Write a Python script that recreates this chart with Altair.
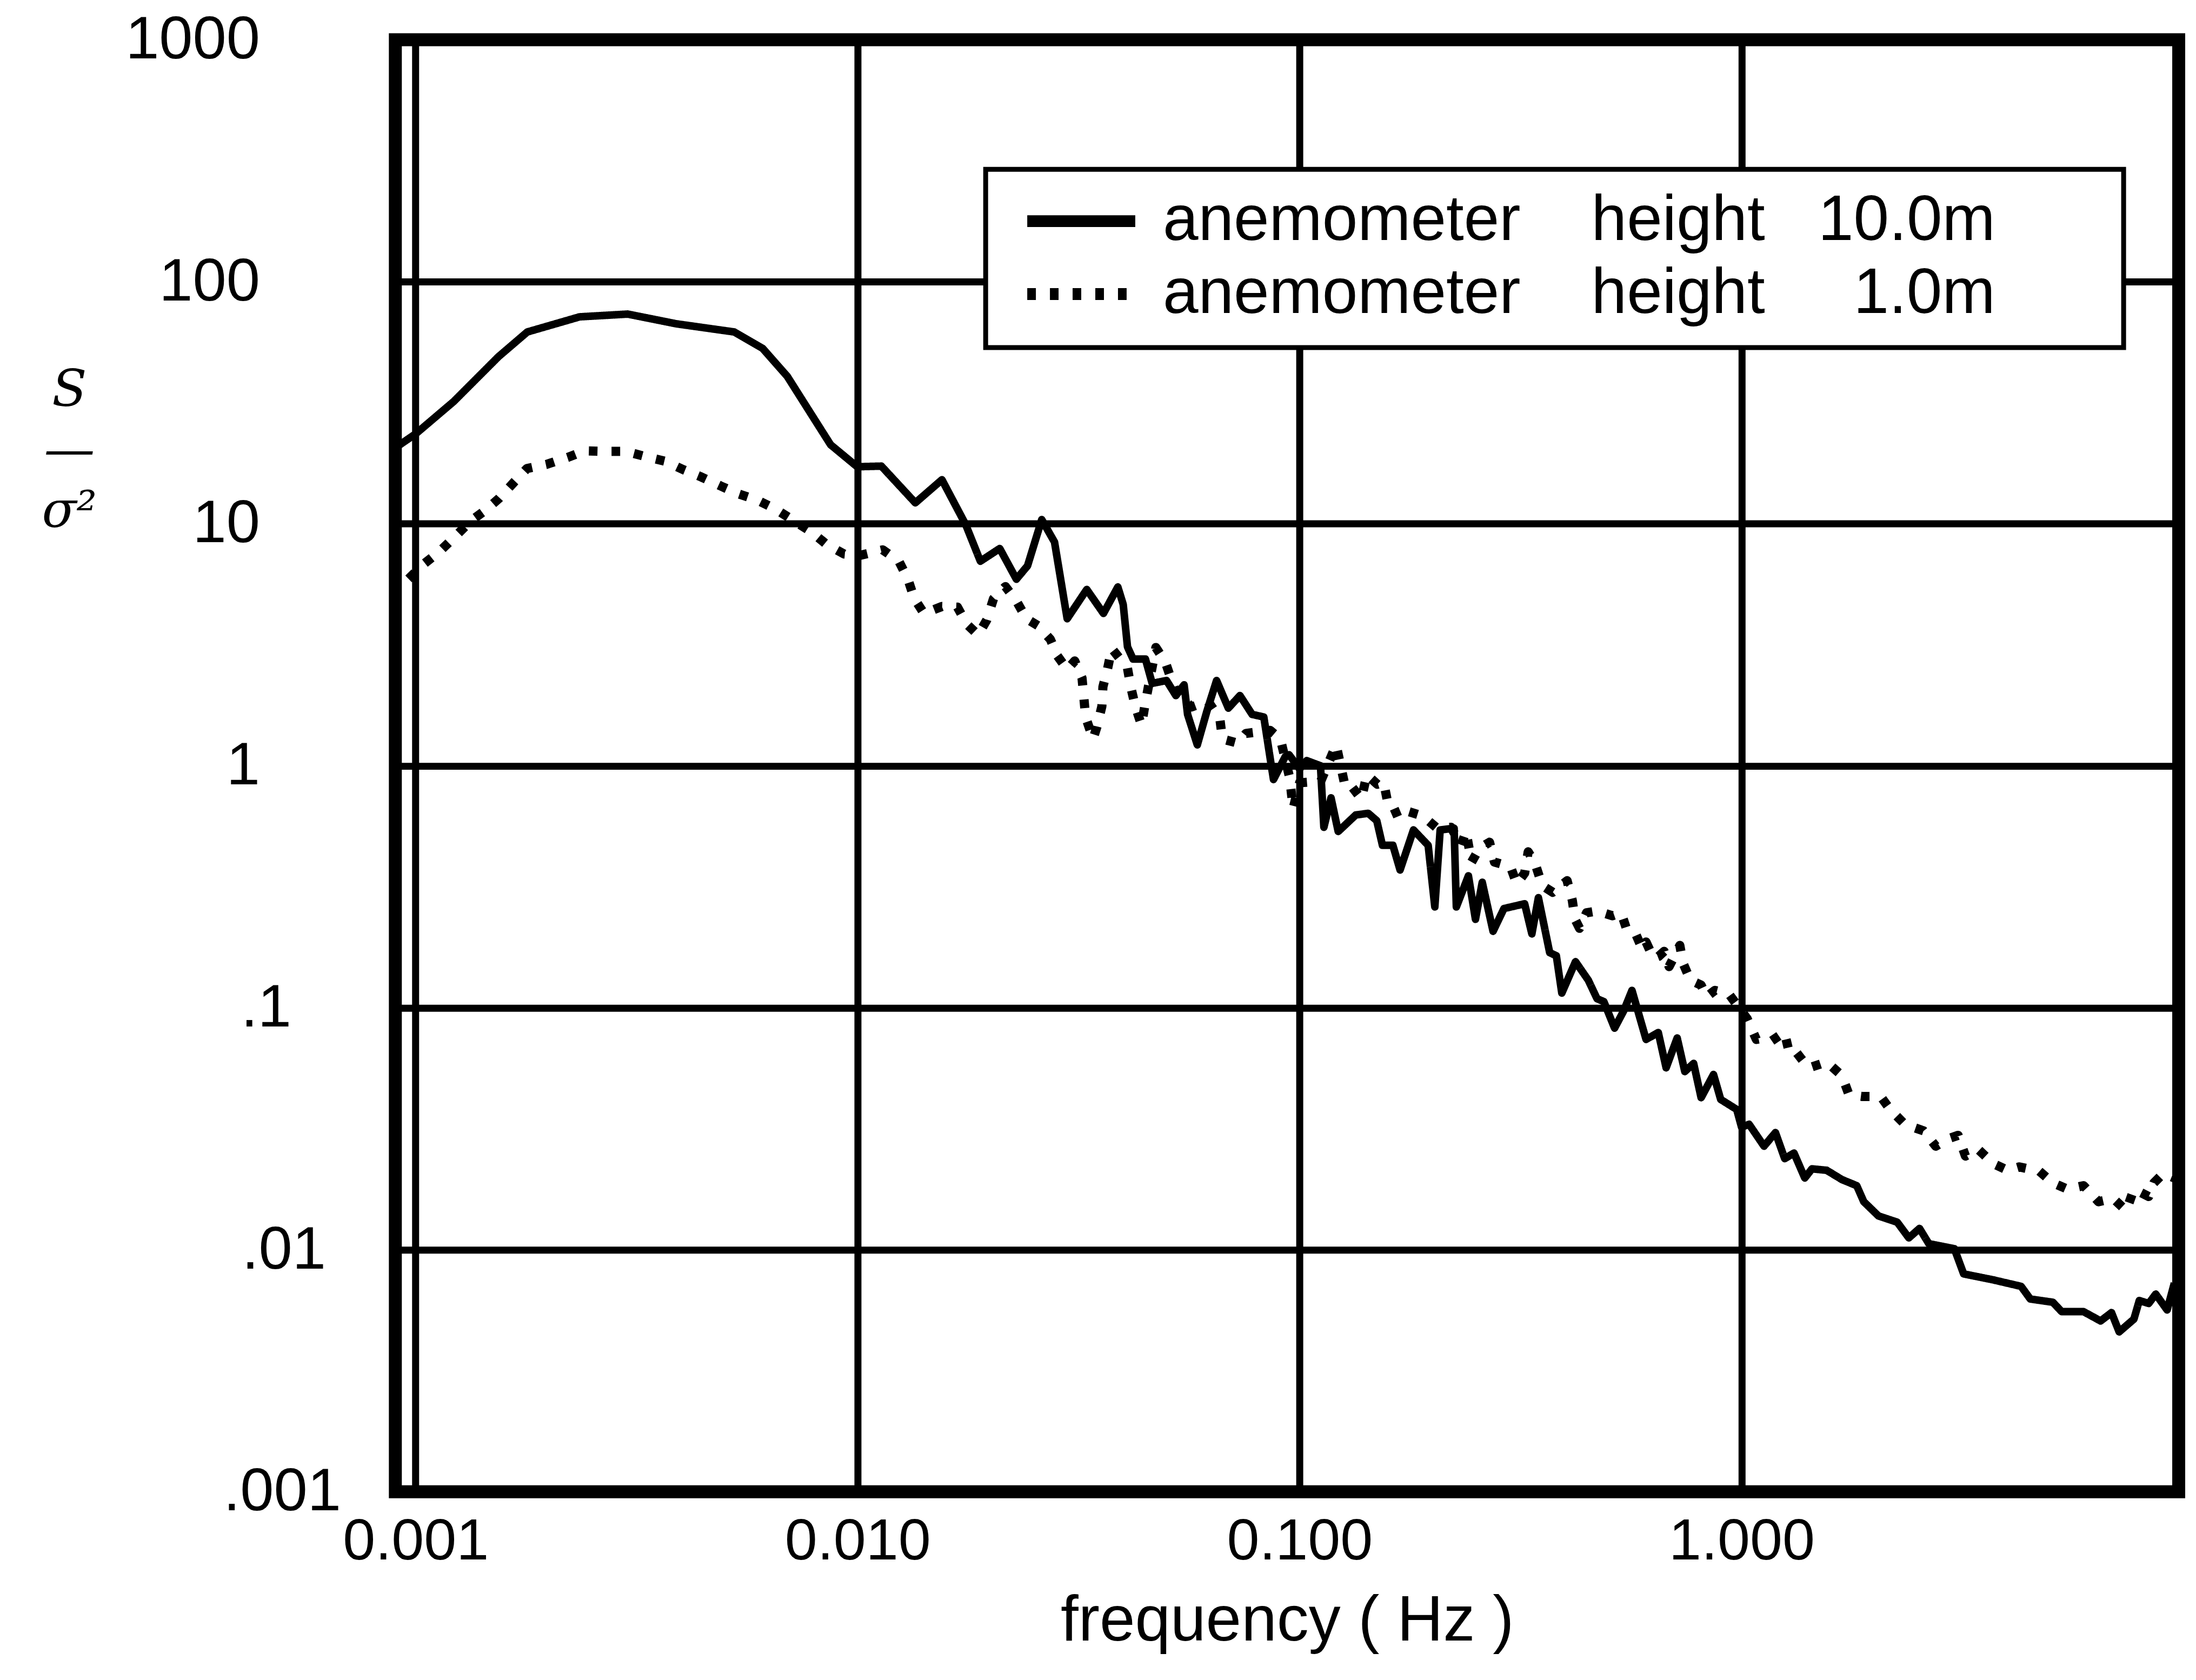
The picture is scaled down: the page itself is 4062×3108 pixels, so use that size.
import altair as alt
import pandas as pd

# ---------------- data ----------------
NB = "\u00a0"
LABEL_10 = "anemometer" + NB * 4 + "height" + NB * 3 + "10.0m" + NB * 6 + "\u200b"
LABEL_1 = "anemometer" + NB * 4 + "height" + NB * 5 + "1.0m" + NB * 6 + "\u200b"

freq_10m = [0.0009, 0.001, 0.00122, 0.00154, 0.00179, 0.00235, 0.00302, 0.00389, 0.00526, 0.0061,
            0.00693, 0.00787, 0.00869, 0.00998, 0.01132, 0.01351, 0.01552, 0.01757, 0.01896, 0.02097,
            0.02287, 0.02424, 0.0261, 0.0279, 0.0298, 0.0330, 0.0360, 0.0388, 0.0399, 0.0408,
            0.0420, 0.0448, 0.0464, 0.0500, 0.0525, 0.0548, 0.0558, 0.0587, 0.0617, 0.0649,
            0.0690, 0.0733, 0.0781, 0.0830, 0.0861, 0.0873, 0.0928, 0.0947, 0.1, 0.1038,
            0.1115, 0.1135, 0.1178, 0.1223, 0.134, 0.143, 0.1495, 0.154, 0.1626, 0.1688,
            0.181, 0.1954, 0.2023, 0.208, 0.2237, 0.2263, 0.241, 0.250, 0.259, 0.274,
            0.290, 0.323, 0.3354, 0.347, 0.368, 0.381, 0.392, 0.421, 0.450, 0.471,
            0.488, 0.516, 0.541, 0.565, 0.608, 0.648, 0.675, 0.715, 0.744, 0.779,
            0.81, 0.864, 0.897, 0.975, 1.0, 1.04, 1.124, 1.193, 1.252, 1.314,
            1.39, 1.443, 1.558, 1.687, 1.822, 1.89, 2.04, 2.25, 2.39, 2.527,
            2.652, 3.03, 3.18, 3.71, 4.29, 4.50, 5.06, 5.30, 5.94, 6.49,
            6.87, 7.15, 7.72, 7.94, 8.34, 8.65, 9.18, 9.53]
s_10m = [20.6, 23.5, 32.0, 49.0, 62.0, 71.6, 73.5, 67.0, 62.0, 53.0,
         40.7, 28.2, 21.2, 17.2, 17.3, 12.2, 15.2, 9.9, 7.0, 7.9,
         5.9, 6.7, 10.4, 8.4, 4.05, 5.35, 4.26, 5.48, 4.64, 3.10,
         2.76, 2.76, 2.19, 2.25, 1.95, 2.16, 1.63, 1.22, 1.68, 2.25,
         1.73, 1.95, 1.63, 1.59, 1.03, 0.877, 1.09, 1.11, 0.97, 1.05,
         1.0, 0.557, 0.737, 0.535, 0.626, 0.636, 0.593, 0.469, 0.469, 0.371,
         0.543, 0.469, 0.261, 0.543, 0.552, 0.261, 0.351, 0.232, 0.330, 0.207,
         0.257, 0.269, 0.202, 0.285, 0.169, 0.164, 0.115, 0.155, 0.130, 0.109,
         0.106, 0.0824, 0.097, 0.118, 0.074, 0.079, 0.0565, 0.075, 0.0545, 0.0589,
         0.0425, 0.053, 0.0418, 0.038, 0.0321, 0.033, 0.0268, 0.0305, 0.0238, 0.0251,
         0.0198, 0.0216, 0.0213, 0.0195, 0.0184, 0.0158, 0.0138, 0.0130, 0.0112, 0.01225,
         0.0106, 0.0101, 0.00795, 0.00751, 0.00706, 0.00626, 0.00607, 0.00555, 0.00555, 0.00508,
         0.0055, 0.00458, 0.00517, 0.00617, 0.0060, 0.00656, 0.00564, 0.00728]

freq_1m = [0.000964, 0.001046, 0.001135, 0.001224, 0.001336, 0.001442, 0.001543, 0.001673, 0.001786, 0.00198,
           0.00221, 0.00241, 0.00269, 0.00299, 0.00333, 0.00368, 0.00404, 0.00443, 0.00491, 0.00537,
           0.00594, 0.00652, 0.00711, 0.00783, 0.00852, 0.00932, 0.01012, 0.0114, 0.0124, 0.0130,
           0.01343, 0.01413, 0.01552, 0.01683, 0.01766, 0.01874, 0.0196, 0.0203, 0.0216, 0.02287,
           0.0241, 0.0256, 0.0273, 0.0283, 0.0298, 0.031, 0.0322, 0.0325, 0.0328, 0.0341,
           0.0348, 0.0357, 0.0359, 0.0368, 0.0376, 0.0408, 0.0415, 0.0425, 0.0439, 0.0447,
           0.0473, 0.0497, 0.0525, 0.057, 0.062, 0.066, 0.0669, 0.0725, 0.0756, 0.0858,
           0.0905, 0.095, 0.0967, 0.1, 0.1117, 0.121, 0.1265, 0.129, 0.138, 0.142,
           0.150, 0.155, 0.158, 0.161, 0.167, 0.172, 0.1766, 0.19, 0.205, 0.22,
           0.232, 0.238, 0.245, 0.255, 0.269, 0.276, 0.30, 0.31, 0.323, 0.329,
           0.341, 0.354, 0.374, 0.403, 0.414, 0.420, 0.43, 0.446, 0.471, 0.51,
           0.534, 0.55, 0.576, 0.596, 0.608, 0.632, 0.649, 0.668, 0.6855, 0.725,
           0.737, 0.766, 0.81, 0.833, 0.87, 0.936, 1.03, 1.08, 1.124, 1.166,
           1.25, 1.28, 1.314, 1.418, 1.558, 1.687, 1.75, 1.875, 2.064, 2.166,
           2.34, 2.58, 2.75, 2.94, 3.09, 3.21, 3.43, 3.71, 4.0, 4.25,
           4.72, 5.06, 5.46, 5.94, 6.42, 6.93, 7.42, 7.72, 8.34, 8.57,
           9.0, 9.53]
s_1m = [5.92, 6.84, 7.7, 8.8, 10.3, 11.4, 12.7, 14.9, 16.9, 17.6,
        18.8, 20.0, 19.9, 19.9, 18.9, 18.1, 16.7, 15.6, 14.3, 13.3,
        12.5, 11.5, 10.4, 9.3, 8.2, 7.5, 7.4, 7.8, 7.0, 5.9,
        4.92, 4.26, 4.55, 4.52, 3.85, 3.47, 4.0, 4.9, 5.5, 4.8,
        4.05, 3.79, 3.33, 2.85, 2.5, 2.71, 2.30, 1.92, 1.59, 1.29,
        1.45, 1.76, 2.12, 2.53, 3.05, 2.53, 2.12, 1.76, 1.47, 1.79,
        3.08, 2.68, 2.0, 1.75, 1.85, 1.57, 1.29, 1.24, 1.36, 1.40,
        1.29, 0.89, 0.664, 0.85, 0.864, 1.22, 0.838, 0.854, 0.729, 0.918,
        0.838, 0.854, 0.716, 0.715, 0.611, 0.638, 0.646, 0.62, 0.551, 0.557,
        0.469, 0.535, 0.40, 0.455, 0.483, 0.40, 0.383, 0.325, 0.36, 0.441,
        0.395, 0.32, 0.30, 0.335, 0.278, 0.232, 0.213, 0.247, 0.251, 0.24,
        0.247, 0.21, 0.202, 0.175, 0.187, 0.16, 0.163, 0.171, 0.148, 0.181,
        0.153, 0.13, 0.124, 0.111, 0.118, 0.114, 0.09, 0.074, 0.075, 0.0727,
        0.0793, 0.066, 0.0673, 0.0564, 0.0597, 0.0524, 0.0437, 0.043, 0.043, 0.0381,
        0.033, 0.031, 0.0268, 0.0288, 0.0297, 0.0244, 0.026, 0.0227, 0.0213, 0.022,
        0.0211, 0.0189, 0.0178, 0.0184, 0.0158, 0.0163, 0.0145, 0.0178, 0.0166, 0.0189,
        0.0207, 0.0198]

x_ticks = [0.001, 0.01, 0.1, 1]
y_ticks = [0.001, 0.01, 0.1, 1, 10, 100, 1000]

# ---------------- table ----------------
rows = []
for i, (f, s) in enumerate(zip(freq_10m, s_10m)):
    rows.append({"freq": f, "S": s, "series": LABEL_10, "idx": i})
for i, (f, s) in enumerate(zip(freq_1m, s_1m)):
    rows.append({"freq": f, "S": s, "series": LABEL_1, "idx": i})
df = pd.DataFrame(rows)

LABEL_FONT = "Liberation Sans"

x_axis = alt.Axis(
    values=x_ticks, format=".3f", grid=True, ticks=False, domain=False,
    labelFont=LABEL_FONT, labelFontSize=108, labelPadding=40, labelColor="black",
    labelFlush=False, labelOverlap=False, labelLimit=1000,
    title="frequency\u00a0(\u00a0Hz\u00a0)", titleFont=LABEL_FONT, titleFontSize=118,
    titleFontWeight="normal", titleColor="black", titleBaseline="top", titleY=182,
)

y_axis = alt.Axis(
    values=y_ticks, grid=True, ticks=False, domain=False,
    labelExpr="datum.value >= 1 ? format(datum.value, 'd') : substring(format(datum.value, '.3~f'), 1)",
    labelFont=LABEL_FONT, labelFontSize=112, labelColor="black", labelAlign="right",
    labelBaseline="middle", labelFlush=False, labelOverlap=False, labelLimit=1000,
    labelPadding={"condition": [{"test": "datum.value >= 1", "value": 251},
                                {"test": "datum.value >= 0.1", "value": 193},
                                {"test": "datum.value >= 0.01", "value": 129}],
                  "value": 101},
    title=["S", "\u2014", "\u03c3\u00b2"], titleFont="DejaVu Serif", titleFontSize=94,
    titleFontStyle="italic", titleFontWeight="normal", titleColor="black",
    titleAngle=0, titleAlign="center", titleBaseline="top", titleLineHeight=112,
    titleX=-604, titleY=604,
)

x_enc = alt.X("freq:Q", scale=alt.Scale(type="log", domain=[0.0009, 9.75], nice=False), axis=x_axis)
y_enc = alt.Y("S:Q", scale=alt.Scale(type="log", domain=[0.001, 1000], nice=False), axis=y_axis)
dash_enc = alt.StrokeDash(
    "series:N", title=None,
    scale=alt.Scale(domain=[LABEL_10, LABEL_1], range=[[1, 0], [16, 26]]),
    legend=alt.Legend(orient="none", legendX=1093, legendY=240),
)

base = alt.Chart(df).encode(x=x_enc, y=y_enc, strokeDash=dash_enc, order="idx:Q")

solid = base.transform_filter(alt.datum.series == LABEL_10).mark_line(
    color="black", strokeWidth=14, strokeCap="butt", strokeJoin="round", clip=True
)
dotted = base.transform_filter(alt.datum.series == LABEL_1).mark_line(
    color="black", strokeWidth=17, strokeCap="butt", strokeJoin="round", clip=True
)

chart = alt.layer(solid, dotted).properties(
    width=3302, height=2689,
    autosize=alt.AutoSizeParams(type="none"),
    padding={"left": 724, "top": 64, "right": 24, "bottom": 330},
    background="white",
).configure_view(
    stroke="black", strokeWidth=24
).configure_axis(
    gridColor="black", gridWidth=13, gridOpacity=1
).configure_legend(
    labelFont=LABEL_FONT, labelFontSize=118, labelColor="black", labelLimit=3000,
    symbolType="stroke", symbolSize=40000, symbolStrokeWidth=22, symbolStrokeColor="black",
    symbolOffset=26, labelOffset=40, padding=40, rowPadding=17, clipHeight=112,
    strokeColor="black", strokeWidth=9, fillColor="white",
)

chart.save("out.html", embed_options={"renderer": "svg", "actions": False})
